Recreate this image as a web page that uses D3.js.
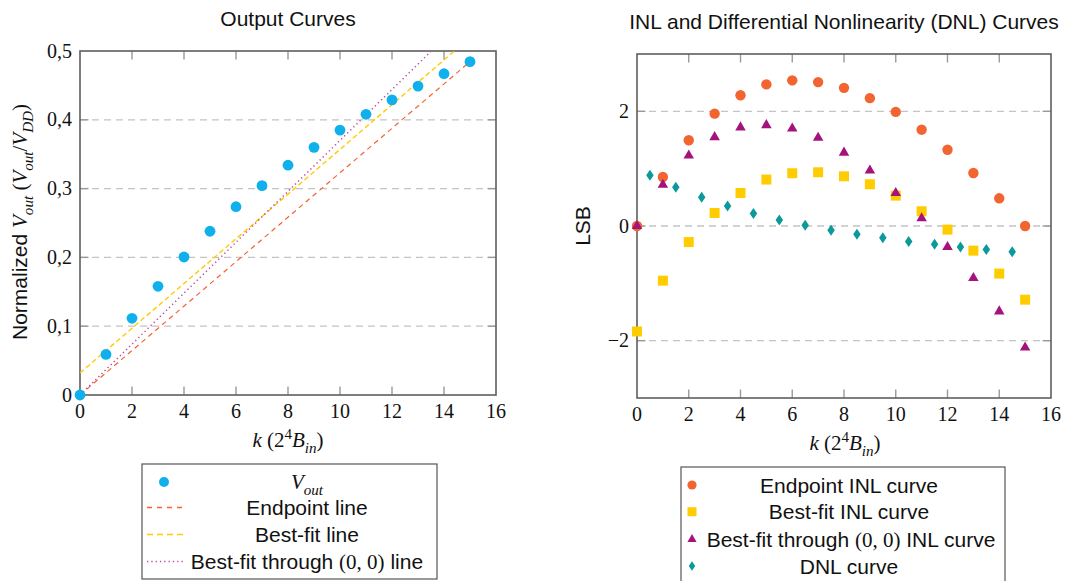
<!DOCTYPE html>
<html><head><meta charset="utf-8">
<script src="https://cdn.jsdelivr.net/npm/d3@7"></script>
<style>body{margin:0;background:#fff}svg{display:block}</style>
</head><body>
<svg id="c" width="1065" height="581"></svg>
<script>
// ---------- DATA ----------
const kOut = [0,1,2,3,4,5,6,7,8,9,10,11,12,13,14,15];
const vOut = [0,0.059,0.1115,0.158,0.2006,0.238,0.2737,0.3043,0.334,0.360,0.385,0.408,0.429,0.449,0.467,0.4845];
const lineNames = ["Endpoint line","Best-fit line","Best-fit through (0,0) line"];
const lineSlopes = [0.0323,0.0325,0.0370];
const lineIntercepts = [0,0.032,0];
const lineKRange = [0,15];

const kInl = [0,1,2,3,4,5,6,7,8,9,10,11,12,13,14,15];
const inlEndpoint = [0,0.855,1.496,1.96,2.28,2.47,2.54,2.51,2.41,2.23,1.99,1.68,1.33,0.925,0.483,0];
const inlBestFit = [-1.84,-0.953,-0.28,0.227,0.576,0.81,0.92,0.937,0.867,0.728,0.53,0.257,-0.063,-0.43,-0.83,-1.285];
const inlOrigin = [0,0.72,1.23,1.55,1.72,1.76,1.70,1.54,1.28,0.967,0.576,0.134,-0.366,-0.907,-1.49,-2.12];
const kDnl = [0.5,1.5,2.5,3.5,4.5,5.5,6.5,7.5,8.5,9.5,10.5,11.5,12.5,13.5,14.5];
const dnl = [0.885,0.675,0.50,0.35,0.22,0.105,0.012,-0.075,-0.145,-0.205,-0.27,-0.32,-0.366,-0.41,-0.45];

const xTicks = [0,2,4,6,8,10,12,14,16];
const leftYTicks = [0,0.1,0.2,0.3,0.4,0.5];
const leftYTickLabels = ["0","0,1","0,2","0,3","0,4","0,5"];
const rightYTicks = [-2,0,2];
const rightYTickLabels = ["\u22122","0","2"];

const colors = {vout:"#0fb0ec", endpoint:"#f26430", bestfit:"#ffcc00", origin:"#a4137c", dnl:"#0b999c"};

// ---------- SETUP ----------
const svg = d3.select("#c");
const SANS = "'Liberation Sans', Arial, sans-serif";
const SERIF = "'Liberation Serif', 'Times New Roman', serif";
const axisColor = "#5e5e5e", gridColor = "#c4c4c4", tickColor = "#9a9a9a";

function mathText(g, parts, size){
  // parts: [text, kind] kind: sans|rm|it|sub|sup
  let shift = 0;
  parts.forEach(([t,k])=>{
    const ts = g.append("tspan").text(t);
    let target = 0;
    if(k==="sans"){ ts.attr("font-family",SANS); }
    else { ts.attr("font-family",SERIF); }
    if(k==="it"||k==="sub") ts.attr("font-style","italic");
    if(k==="sub"){ target = size*0.28; ts.attr("font-size",size*0.72); }
    if(k==="sup"){ target = -size*0.38; ts.attr("font-size",size*0.72); }
    if(target!==shift){ ts.attr("dy", target-shift); shift = target; }
  });
}

function frame(g, x, y, yTicks, yLabels){
  const [x0,x1] = x.range(); const [y0,y1] = y.range();
  // grid
  g.append("g").selectAll("line").data(yTicks.filter(d=>y(d)>y1+1 && y(d)<y0-1)).join("line")
    .attr("x1",x0).attr("x2",x1).attr("y1",d=>y(d)).attr("y2",d=>y(d))
    .attr("stroke",gridColor).attr("stroke-width",1.3).attr("stroke-dasharray","7,5");
  // ticks inward
  const tl = 8.5;
  const xt = xTicks.filter(d=>d>x.domain()[0]&&d<x.domain()[1]);
  const tg = g.append("g").attr("stroke",tickColor).attr("stroke-width",1.4);
  tg.selectAll(".b").data(xt).join("line").attr("x1",d=>x(d)).attr("x2",d=>x(d)).attr("y1",y0).attr("y2",y0-tl);
  tg.selectAll(".t").data(xt).join("line").attr("x1",d=>x(d)).attr("x2",d=>x(d)).attr("y1",y1).attr("y2",y1+tl);
  const yt = yTicks.filter(d=>y(d)>y1+1 && y(d)<y0-1);
  tg.selectAll(".r").data(yt).join("line").attr("x1",x1).attr("x2",x1-tl).attr("y1",d=>y(d)).attr("y2",d=>y(d));
  tg.selectAll(".l").data(yt).join("line").attr("x1",x0).attr("x2",x0+tl).attr("y1",d=>y(d)).attr("y2",d=>y(d));
  // box
  g.append("rect").attr("x",x0).attr("y",y1).attr("width",x1-x0).attr("height",y0-y1)
    .attr("fill","none").attr("stroke",axisColor).attr("stroke-width",1.6);
  // tick labels
  g.append("g").selectAll("text").data(xTicks).join("text")
    .attr("x",d=>x(d)).attr("y",y0+23).attr("text-anchor","middle")
    .attr("font-family",SERIF).attr("font-size",20).attr("fill","#111").text(d=>d);
  g.append("g").selectAll("text").data(yTicks).join("text")
    .attr("x",x0-8).attr("y",d=>y(d)+6.5).attr("text-anchor","end")
    .attr("font-family",SERIF).attr("font-size",20).attr("fill","#111").text((d,i)=>yLabels[i]);
}

// ---------- LEFT CHART ----------
const xL = d3.scaleLinear().domain([0,16]).range([80,496]);
const yL = d3.scaleLinear().domain([0,0.5]).range([395,51]);
const gL = svg.append("g");
svg.append("clipPath").attr("id","clipL").append("rect").attr("x",80).attr("y",51).attr("width",416).attr("height",344);
frame(gL, xL, yL, leftYTicks, leftYTickLabels);

const lineStyles = [
  {color:colors.endpoint, dash:"5,4", w:1.2},
  {color:colors.bestfit, dash:"5,3", w:1.4},
  {color:"#c04d9c", dash:"1.3,3", w:1.5}
];
const lineGen = d3.line().x(d=>xL(d[0])).y(d=>yL(d[1]));
const gLines = gL.append("g").attr("clip-path","url(#clipL)");
lineSlopes.forEach((s,i)=>{
  const pts = lineKRange.map(k=>[k, lineIntercepts[i]+s*k]);
  gLines.append("path").attr("d",lineGen(pts)).attr("fill","none")
    .attr("stroke",lineStyles[i].color).attr("stroke-width",lineStyles[i].w).attr("stroke-dasharray",lineStyles[i].dash);
});
gL.append("g").selectAll("circle").data(kOut).join("circle")
  .attr("cx",d=>xL(d)).attr("cy",(d,i)=>yL(vOut[i])).attr("r",5.4).attr("fill",colors.vout);

gL.append("text").attr("x",288).attr("y",26).attr("text-anchor","middle")
  .attr("font-family",SANS).attr("font-size",21).attr("fill","#111").text("Output Curves");

// x label
{
  const t = gL.append("text").attr("x",288).attr("y",447).attr("text-anchor","middle").attr("font-size",21).attr("fill","#111");
  mathText(t, [["k","it"],[" (2","rm"],["4","sup"],["B","it"],["in","sub"],[")","rm"]], 21);
}
// y label
{
  const t = gL.append("text").attr("transform","translate(27,222) rotate(-90)").attr("text-anchor","middle").attr("font-size",21).attr("fill","#111");
  mathText(t, [["Normalized ","sans"],["V","it"],["out","sub"],[" (","rm"],["V","it"],["out","sub"],["/","rm"],["V","it"],["DD","sub"],[")","rm"]], 21);
}

// left legend
{
  const lg = svg.append("g");
  lg.append("rect").attr("x",142).attr("y",464).attr("width",295).attr("height",115)
    .attr("fill","#fff").attr("stroke","#555").attr("stroke-width",1.2);
  const rows = [482,507.5,534.5,561.5];
  lg.append("circle").attr("cx",164).attr("cy",rows[0]).attr("r",5).attr("fill",colors.vout);
  const t0 = lg.append("text").attr("x",307).attr("y",rows[0]+7).attr("text-anchor","middle").attr("font-size",21).attr("fill","#111");
  mathText(t0, [["V","it"],["out","sub"]], 21);
  const legDash = ["5,5","6,4","1.3,3"];
  lineNames.forEach((n,i)=>{
    lg.append("line").attr("x1",147).attr("x2",183).attr("y1",rows[i+1]).attr("y2",rows[i+1])
      .attr("stroke",lineStyles[i].color).attr("stroke-width",1.3).attr("stroke-dasharray",legDash[i]);
    const t = lg.append("text").attr("x",307).attr("y",rows[i+1]+7.5).attr("text-anchor","middle").attr("font-size",21).attr("fill","#111");
    if(i<2) mathText(t, [[n,"sans"]], 21);
    else mathText(t, [["Best-fit through ","sans"],["(0, 0)","rm"],[" line","sans"]], 21);
  });
}

// ---------- RIGHT CHART ----------
const xR = d3.scaleLinear().domain([0,16]).range([637,1051]);
const yR = d3.scaleLinear().domain([-3,3]).range([398,54]);
const gR = svg.append("g");
frame(gR, xR, yR, rightYTicks, rightYTickLabels);

const sym = {
  circle: d3.symbol().type(d3.symbolCircle).size(Math.PI*5.2*5.2),
  square: d3.symbol().type(d3.symbolSquare).size(10*10),
  triangle: d3.symbol().type(d3.symbolTriangle).size(48),
};
function diamondPath(w,h){ return `M0,${-h/2}L${w/2},0L0,${h/2}L${-w/2},0Z`; }

gR.append("g").selectAll("path").data(kDnl).join("path")
  .attr("transform",(d,i)=>`translate(${xR(d)},${yR(dnl[i])})`).attr("d",diamondPath(7.5,11)).attr("fill",colors.dnl);
gR.append("g").selectAll("path").data(kInl).join("path")
  .attr("transform",(d,i)=>`translate(${xR(d)},${yR(inlBestFit[i])})`).attr("d",sym.square()).attr("fill",colors.bestfit);
gR.append("g").selectAll("path").data(kInl).join("path")
  .attr("transform",(d,i)=>`translate(${xR(d)},${yR(inlEndpoint[i])})`).attr("d",sym.circle()).attr("fill",colors.endpoint);
gR.append("g").selectAll("path").data(kInl).join("path")
  .attr("transform",(d,i)=>`translate(${xR(d)},${yR(inlOrigin[i])})`).attr("d",sym.triangle()).attr("fill",colors.origin);

gR.append("text").attr("x",844).attr("y",29).attr("text-anchor","middle")
  .attr("font-family",SANS).attr("font-size",21).attr("fill","#111").text("INL and Differential Nonlinearity (DNL) Curves");
{
  const t = gR.append("text").attr("x",845).attr("y",450).attr("text-anchor","middle").attr("font-size",21).attr("fill","#111");
  mathText(t, [["k","it"],[" (2","rm"],["4","sup"],["B","it"],["in","sub"],[")","rm"]], 21);
}
gR.append("text").attr("transform","translate(590,226) rotate(-90)").attr("text-anchor","middle")
  .attr("font-family",SANS).attr("font-size",21).attr("fill","#111").text("LSB");

// right legend
{
  const lg = svg.append("g");
  lg.append("rect").attr("x",681).attr("y",467).attr("width",324).attr("height",118)
    .attr("fill","#fff").attr("stroke","#555").attr("stroke-width",1.2);
  const rows = [485,511.7,539.3,566];
  const sx = 692;
  lg.append("circle").attr("cx",sx).attr("cy",rows[0]).attr("r",4.6).attr("fill",colors.endpoint);
  lg.append("rect").attr("x",sx-4.5).attr("y",rows[1]-4.5).attr("width",9).attr("height",9).attr("fill",colors.bestfit);
  lg.append("path").attr("transform",`translate(${sx},${rows[2]})`).attr("d",d3.symbol().type(d3.symbolTriangle).size(36)()).attr("fill",colors.origin);
  lg.append("path").attr("transform",`translate(${sx},${rows[3]})`).attr("d",diamondPath(6.5,9.5)).attr("fill",colors.dnl);
  const cx = 849;
  const texts = [
    [["Endpoint INL curve","sans"]],
    [["Best-fit INL curve","sans"]],
    [["Best-fit through ","sans"],["(0, 0)","rm"],[" INL curve","sans"]],
    [["DNL curve","sans"]]
  ];
  texts.forEach((p,i)=>{
    const t = lg.append("text").attr("x",i===2?851:cx).attr("y",rows[i]+7.5).attr("text-anchor","middle").attr("font-size",21).attr("fill","#111");
    mathText(t, p, 21);
  });
}
</script>
</body></html>
